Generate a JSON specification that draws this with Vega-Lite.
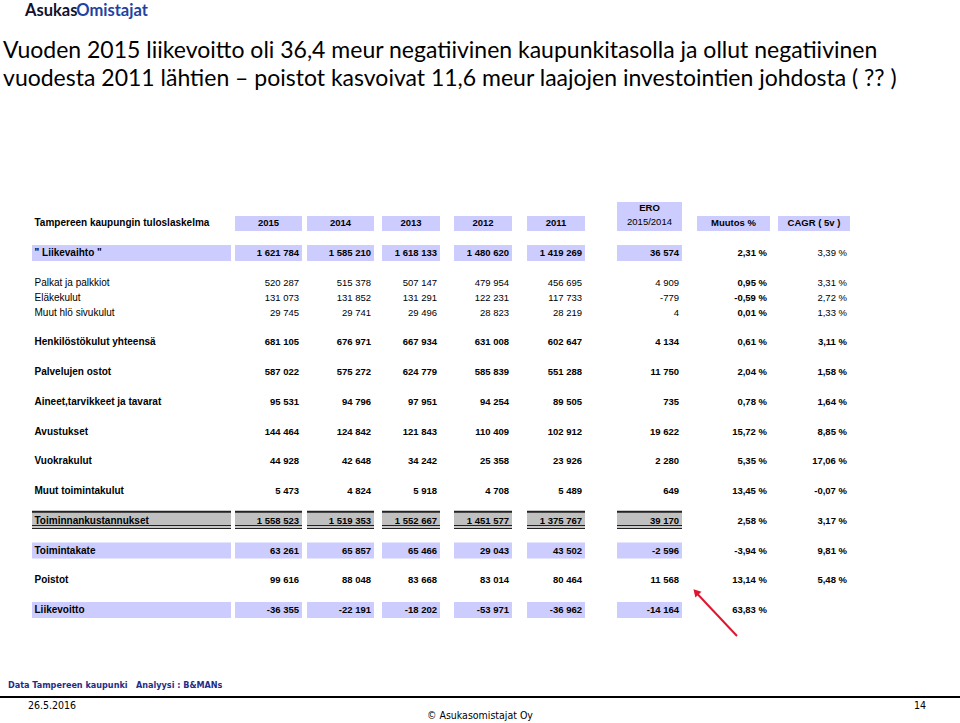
{
 "$schema": "https://vega.github.io/schema/vega-lite/v6.json",
 "width": 960, "height": 723,
 "autosize": {"type": "none"},
 "padding": 0,
 "background": "white",
 "config": {"view": {"stroke": null}, "axis": {"disable": true}, "text": {"font": "Liberation Sans", "color": "#000000"}},
 "datasets": {
  "rows": [
   {"label": "Tampereen kaupungin tuloslaskelma", "line": 0, "level": "header"},
   {"label": "\" Liikevaihto \"", "line": 1, "level": "revenue", "2015": 1621784, "2014": 1585210, "2013": 1618133, "2012": 1480620, "2011": 1419269, "ERO": 36574, "Muutos": 2.31, "CAGR": 3.39},
   {"label": "Palkat ja palkkiot", "line": 2, "level": "sub", "2015": 520287, "2014": 515378, "2013": 507147, "2012": 479954, "2011": 456695, "ERO": 4909, "Muutos": 0.95, "CAGR": 3.31},
   {"label": "Eläkekulut", "line": 2.5, "level": "sub", "2015": 131073, "2014": 131852, "2013": 131291, "2012": 122231, "2011": 117733, "ERO": -779, "Muutos": -0.59, "CAGR": 2.72},
   {"label": "Muut hlö sivukulut", "line": 3, "level": "sub", "2015": 29745, "2014": 29741, "2013": 29496, "2012": 28823, "2011": 28219, "ERO": 4, "Muutos": 0.01, "CAGR": 1.33},
   {"label": "Henkilöstökulut yhteensä", "line": 4, "level": "item", "2015": 681105, "2014": 676971, "2013": 667934, "2012": 631008, "2011": 602647, "ERO": 4134, "Muutos": 0.61, "CAGR": 3.11},
   {"label": "Palvelujen ostot", "line": 5, "level": "item", "2015": 587022, "2014": 575272, "2013": 624779, "2012": 585839, "2011": 551288, "ERO": 11750, "Muutos": 2.04, "CAGR": 1.58},
   {"label": "Aineet,tarvikkeet ja tavarat", "line": 6, "level": "item", "2015": 95531, "2014": 94796, "2013": 97951, "2012": 94254, "2011": 89505, "ERO": 735, "Muutos": 0.78, "CAGR": 1.64},
   {"label": "Avustukset", "line": 7, "level": "item", "2015": 144464, "2014": 124842, "2013": 121843, "2012": 110409, "2011": 102912, "ERO": 19622, "Muutos": 15.72, "CAGR": 8.85},
   {"label": "Vuokrakulut", "line": 8, "level": "item", "2015": 44928, "2014": 42648, "2013": 34242, "2012": 25358, "2011": 23926, "ERO": 2280, "Muutos": 5.35, "CAGR": 17.06},
   {"label": "Muut toimintakulut", "line": 9, "level": "item", "2015": 5473, "2014": 4824, "2013": 5918, "2012": 4708, "2011": 5489, "ERO": 649, "Muutos": 13.45, "CAGR": -0.07},
   {"label": "Toiminnankustannukset", "line": 10, "level": "sum", "2015": 1558523, "2014": 1519353, "2013": 1552667, "2012": 1451577, "2011": 1375767, "ERO": 39170, "Muutos": 2.58, "CAGR": 3.17},
   {"label": "Toimintakate", "line": 11, "level": "key", "2015": 63261, "2014": 65857, "2013": 65466, "2012": 29043, "2011": 43502, "ERO": -2596, "Muutos": -3.94, "CAGR": 9.81},
   {"label": "Poistot", "line": 12, "level": "item", "2015": 99616, "2014": 88048, "2013": 83668, "2012": 83014, "2011": 80464, "ERO": 11568, "Muutos": 13.14, "CAGR": 5.48},
   {"label": "Liikevoitto", "line": 13, "level": "key", "2015": -36355, "2014": -22191, "2013": -18202, "2012": -53971, "2011": -36962, "ERO": -14164, "Muutos": 63.83}
  ],
  "cols": [
   {"key": "label", "c": 0, "head": ""},
   {"key": "2015", "c": 1, "head": "2015"},
   {"key": "2014", "c": 2, "head": "2014"},
   {"key": "2013", "c": 3, "head": "2013"},
   {"key": "2012", "c": 4, "head": "2012"},
   {"key": "2011", "c": 5, "head": "2011"},
   {"key": "ERO", "c": 6, "head": "2015/2014", "top": "ERO"},
   {"key": "Muutos", "c": 7, "head": "Muutos %"},
   {"key": "CAGR", "c": 8, "head": "CAGR ( 5v )"}
  ]
 },
 "layer": [
  {
   "data": {"name": "rows"},
   "transform": [
    {"fold": ["label", "2015", "2014", "2013", "2012", "2011", "ERO", "Muutos", "CAGR"], "as": ["key", "value"]},
    {"filter": "isValid(datum.value)"},
    {"lookup": "key", "from": {"data": {"name": "cols"}, "key": "key", "fields": ["c"]}},
    {"calculate": "datum.c + 0.9", "as": "c2"},
    {"filter": "(datum.level == 'revenue' || datum.level == 'key') && datum.c <= 6"}
   ],
   "mark": {"type": "rect", "fill": "#ccccff", "yOffset": -8, "y2Offset": 8},
   "encoding": {
    "x": {"field": "c", "type": "quantitative", "axis": null, "scale": {"domain": [-1, 0, 0.9, 1, 1.9, 2, 2.9, 3, 3.9, 4, 4.9, 5, 5.9, 6, 6.9, 7, 7.9, 8, 8.9, 10], "range": [0, 32, 231, 235, 302, 307, 374, 382, 440, 454, 512, 527, 585, 617, 682, 697, 770, 778, 850, 960], "nice": false, "zero": false}},
    "x2": {"field": "c2"},
    "y": {"field": "line", "type": "quantitative", "axis": null, "scale": {"domain": [-7.504, 16.798], "reverse": true, "nice": false, "zero": false}},
    "y2": {"field": "line"}
   }
  },
  {
   "data": {"name": "rows"},
   "transform": [
    {"fold": ["label", "2015", "2014", "2013", "2012", "2011", "ERO", "Muutos", "CAGR"], "as": ["key", "value"]},
    {"filter": "isValid(datum.value)"},
    {"lookup": "key", "from": {"data": {"name": "cols"}, "key": "key", "fields": ["c"]}},
    {"calculate": "datum.c + 0.9", "as": "c2"},
    {"filter": "datum.level == 'sum' && datum.c <= 6"}
   ],
   "layer": [
    {"mark": {"type": "rect", "fill": "#c0c0c0", "yOffset": -8.75, "y2Offset": 4.5},
     "encoding": {"x": {"field": "c", "type": "quantitative", "axis": null}, "x2": {"field": "c2"}, "y": {"field": "line", "type": "quantitative", "axis": null}, "y2": {"field": "line"}}},
    {"mark": {"type": "rule", "color": "#222222", "strokeWidth": 2, "yOffset": -9},
     "encoding": {"x": {"field": "c", "type": "quantitative", "axis": null}, "x2": {"field": "c2"}, "y": {"field": "line", "type": "quantitative", "axis": null}}},
    {"mark": {"type": "rule", "color": "#222222", "strokeWidth": 1.2, "yOffset": 4.9},
     "encoding": {"x": {"field": "c", "type": "quantitative", "axis": null}, "x2": {"field": "c2"}, "y": {"field": "line", "type": "quantitative", "axis": null}}},
    {"mark": {"type": "rule", "color": "#222222", "strokeWidth": 1.4, "yOffset": 7.6},
     "encoding": {"x": {"field": "c", "type": "quantitative", "axis": null}, "x2": {"field": "c2"}, "y": {"field": "line", "type": "quantitative", "axis": null}}}
   ]
  },
  {
   "data": {"name": "cols"},
   "transform": [
    {"filter": "datum.c >= 1"},
    {"calculate": "datum.c + 0.9", "as": "c2"},
    {"calculate": "datum.c + 0.45", "as": "cm"}
   ],
   "layer": [
    {"mark": {"type": "rect", "fill": "#ccccff", "yOffset": -7.25, "y2Offset": 7.75},
     "encoding": {"x": {"field": "c", "type": "quantitative", "axis": null}, "x2": {"field": "c2"}, "y": {"datum": 0, "type": "quantitative", "axis": null}, "y2": {"datum": 0}}},
    {"transform": [{"filter": "datum.key == 'ERO'"}],
     "mark": {"type": "rect", "fill": "#ccccff", "yOffset": -21.25, "y2Offset": -7},
     "encoding": {"x": {"field": "c", "type": "quantitative", "axis": null}, "x2": {"field": "c2"}, "y": {"datum": 0, "type": "quantitative", "axis": null}, "y2": {"datum": 0}}},
    {"transform": [{"filter": "datum.key != 'ERO'"}],
     "mark": {"type": "text", "align": "center", "baseline": "middle", "fontSize": 9.5, "fontWeight": "bold"},
     "encoding": {"x": {"field": "cm", "type": "quantitative", "axis": null}, "y": {"datum": 0, "type": "quantitative", "axis": null}, "text": {"field": "head"}}},
    {"transform": [{"filter": "datum.key == 'ERO'"}],
     "mark": {"type": "text", "align": "center", "baseline": "middle", "fontSize": 9.5, "dy": -1},
     "encoding": {"x": {"field": "cm", "type": "quantitative", "axis": null}, "y": {"datum": 0, "type": "quantitative", "axis": null}, "text": {"field": "head"}}},
    {"transform": [{"filter": "datum.key == 'ERO'"}],
     "mark": {"type": "text", "align": "center", "baseline": "middle", "fontSize": 9.5, "fontWeight": "bold", "dy": -15},
     "encoding": {"x": {"field": "cm", "type": "quantitative", "axis": null}, "y": {"datum": 0, "type": "quantitative", "axis": null}, "text": {"field": "top"}}}
   ]
  },
  {
   "data": {"name": "rows"},
   "transform": [
    {"fold": ["label", "2015", "2014", "2013", "2012", "2011", "ERO", "Muutos", "CAGR"], "as": ["key", "value"]},
    {"filter": "isValid(datum.value)"},
    {"lookup": "key", "from": {"data": {"name": "cols"}, "key": "key", "fields": ["c"]}},
    {"calculate": "datum.c + 0.9", "as": "c2"},
    {"calculate": "datum.key == 'label' ? datum.value : (datum.key == 'Muutos' || datum.key == 'CAGR') ? replace(replace(format(datum.value, '.2f'), '.', ','), '\u2212', '-') + ' %' : replace(replace(format(datum.value, ',d'), /,/g, ' '), '\u2212', '-')", "as": "txt"},
    {"calculate": "(datum.level == 'sub' && datum.key != 'Muutos') || (datum.level == 'revenue' && datum.key == 'CAGR') ? 'regular' : 'bold'", "as": "w"}
   ],
   "layer": [
    {"transform": [{"filter": "datum.key == 'label' && datum.w == 'bold'"}],
     "mark": {"type": "text", "align": "left", "baseline": "middle", "dx": 2.5, "fontSize": 10, "fontWeight": "bold"},
     "encoding": {"x": {"field": "c", "type": "quantitative", "axis": null}, "y": {"field": "line", "type": "quantitative", "axis": null}, "text": {"field": "txt"}}},
    {"transform": [{"filter": "datum.key == 'label' && datum.w == 'regular'"}],
     "mark": {"type": "text", "align": "left", "baseline": "middle", "dx": 2.5, "fontSize": 10},
     "encoding": {"x": {"field": "c", "type": "quantitative", "axis": null}, "y": {"field": "line", "type": "quantitative", "axis": null}, "text": {"field": "txt"}}},
    {"transform": [{"filter": "datum.key != 'label' && datum.w == 'bold'"}],
     "mark": {"type": "text", "align": "right", "baseline": "middle", "dx": -3, "fontSize": 9.5, "fontWeight": "bold"},
     "encoding": {"x": {"field": "c2", "type": "quantitative", "axis": null}, "y": {"field": "line", "type": "quantitative", "axis": null}, "text": {"field": "txt"}}},
    {"transform": [{"filter": "datum.key != 'label' && datum.w == 'regular'"}],
     "mark": {"type": "text", "align": "right", "baseline": "middle", "dx": -3, "fontSize": 9.5},
     "encoding": {"x": {"field": "c2", "type": "quantitative", "axis": null}, "y": {"field": "line", "type": "quantitative", "axis": null}, "text": {"field": "txt"}}}
   ]
  },
  {
   "data": {"values": [{}]},
   "layer": [
    {"mark": {"type": "text", "align": "left", "baseline": "alphabetic", "font": "Lato", "fontSize": 23, "text": "Vuoden 2015 liikevoitto oli 36,4 meur negatiivinen kaupunkitasolla ja ollut negatiivinen"},
     "encoding": {"x": {"datum": -0.906, "type": "quantitative", "axis": null}, "y": {"datum": -5.555, "type": "quantitative", "axis": null}}},
    {"mark": {"type": "text", "align": "left", "baseline": "alphabetic", "font": "Lato", "fontSize": 23, "text": "vuodesta 2011 lähtien – poistot kasvoivat 11,6 meur laajojen investointien johdosta ( ?? )"},
     "encoding": {"x": {"datum": -0.906, "type": "quantitative", "axis": null}, "y": {"datum": -4.613, "type": "quantitative", "axis": null}}},
    {"mark": {"type": "text", "align": "left", "baseline": "alphabetic", "font": "Lato", "fontSize": 16.5, "fontWeight": "bold", "color": "#12122e", "text": "Asukas"},
     "encoding": {"x": {"datum": -0.219, "type": "quantitative", "axis": null}, "y": {"datum": -6.966, "type": "quantitative", "axis": null}}},
    {"mark": {"type": "text", "align": "left", "baseline": "alphabetic", "font": "Lato", "fontSize": 16.5, "fontWeight": "bold", "color": "#2342a0", "text": "Omistajat"},
     "encoding": {"x": {"datum": 0.2, "type": "quantitative", "axis": null}, "y": {"datum": -6.966, "type": "quantitative", "axis": null}}},
    {"mark": {"type": "text", "align": "left", "baseline": "middle", "font": "'Liberation Sans Narrow', 'DejaVu Sans Condensed', 'Liberation Sans', sans-serif", "fontSize": 9, "fontWeight": "bold", "color": "#1f2d86", "text": "Data Tampereen kaupunki\u00a0\u00a0\u00a0Analyysi : B&MANs"},
     "encoding": {"x": {"datum": -0.75, "type": "quantitative", "axis": null}, "y": {"datum": 15.521, "type": "quantitative", "axis": null}}},
    {"mark": {"type": "rule", "color": "#000000", "strokeWidth": 2},
     "encoding": {"x": {"datum": -1, "type": "quantitative", "axis": null}, "x2": {"datum": 10}, "y": {"datum": 15.924, "type": "quantitative", "axis": null}}},
    {"mark": {"type": "text", "align": "left", "baseline": "middle", "font": "'Liberation Sans Narrow', 'DejaVu Sans Condensed', 'Liberation Sans', sans-serif", "fontSize": 10.5, "text": "26.5.2016"},
     "encoding": {"x": {"datum": -0.125, "type": "quantitative", "axis": null}, "y": {"datum": 16.227, "type": "quantitative", "axis": null}}},
    {"mark": {"type": "text", "align": "right", "baseline": "middle", "font": "'Liberation Sans Narrow', 'DejaVu Sans Condensed', 'Liberation Sans', sans-serif", "fontSize": 10.5, "text": "14"},
     "encoding": {"x": {"datum": 9.66, "type": "quantitative", "axis": null}, "y": {"datum": 16.227, "type": "quantitative", "axis": null}}},
    {"mark": {"type": "text", "align": "center", "baseline": "middle", "font": "'Liberation Sans Narrow', 'DejaVu Sans Condensed', 'Liberation Sans', sans-serif", "fontSize": 10.5, "text": "© Asukasomistajat Oy"},
     "encoding": {"x": {"datum": 4.403, "type": "quantitative", "axis": null}, "y": {"datum": 16.563, "type": "quantitative", "axis": null}}},
    {"mark": {"type": "rule", "color": "#e0152f", "strokeWidth": 2},
     "encoding": {"x": {"datum": 7.493, "type": "quantitative", "axis": null}, "y": {"datum": 13.874, "type": "quantitative", "axis": null}, "x2": {"datum": 7.0}, "y2": {"datum": 12.445}}},
    {"mark": {"type": "point", "shape": "triangle-up", "filled": true, "color": "#e0152f", "size": 70, "angle": 317, "opacity": 1},
     "encoding": {"x": {"datum": 6.993, "type": "quantitative", "axis": null}, "y": {"datum": 12.395, "type": "quantitative", "axis": null}}}
   ]
  }
 ]
}
